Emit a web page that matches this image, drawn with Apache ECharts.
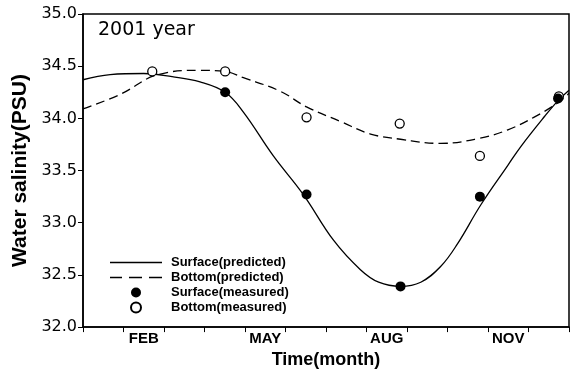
<!DOCTYPE html>
<html><head><meta charset="utf-8">
<script src="https://cdn.jsdelivr.net/npm/echarts@6/dist/echarts.min.js"></script>
<style>html,body{margin:0;padding:0;background:#fff}#c{width:571px;height:374px}</style>
</head><body><div id="c"></div>
<script>
// x in months from start of January (0..12)
const months = ['JAN','FEB','MAR','APR','MAY','JUN','JUL','AUG','SEP','OCT','NOV','DEC'];
const surfacePredicted = [[0,34.37],[0.67,34.42],[1.5,34.43],[2.2,34.40],[2.89,34.35],[3.51,34.25],[3.96,34.06],[4.70,33.64],[5.44,33.27],[6.19,32.83],[6.85,32.55],[7.3,32.43],[7.84,32.39],[8.34,32.43],[8.83,32.58],[9.25,32.80],[9.82,33.17],[10.49,33.55],[10.81,33.73],[11.4,34.02],[11.73,34.17],[12,34.27]];
const bottomPredicted = [[0,34.09],[0.92,34.23],[1.86,34.42],[2.89,34.46],[3.51,34.45],[3.96,34.39],[4.87,34.26],[5.52,34.11],[6.36,33.97],[7.10,33.85],[7.84,33.80],[8.83,33.76],[9.80,33.81],[10.49,33.89],[11.13,34.01],[11.73,34.15],[12,34.24]];
const surfaceMeasured = [[3.51,34.25],[5.52,33.27],[7.84,32.39],[9.80,33.25],[11.73,34.19]];
const bottomMeasured = [[1.71,34.45],[3.51,34.45],[5.52,34.01],[7.82,33.95],[9.80,33.64],[11.75,34.21]];
const seriesNames = ['Surface(predicted)','Bottom(predicted)','Surface(measured)','Bottom(measured)'];
const shownMonths = ['FEB','MAY','AUG','NOV'];

const chart = echarts.init(document.getElementById('c'), null, {renderer:'canvas'});
const boldFont = 'Liberation Sans, Arial, sans-serif';
const solidIcon = 'path://M0,0H52V1.3H0Z';
const dashIcon = 'path://M0,0H12V1.3H0Z M19,0H32V1.3H19Z M39,0H52V1.3H39Z';
chart.setOption({
  animation:false,
  backgroundColor:'#fff',
  title:{text:'2001 year', left:98, top:21, padding:0,
    textStyle:{fontFamily:'DejaVu Sans', fontWeight:'normal', fontSize:19, color:'#000'}},
  grid:{left:83, right:2, top:14, bottom:38, show:true, borderColor:'#000', borderWidth:1.5, backgroundColor:'transparent'},
  legend:{
    orient:'vertical', left:105, top:251, itemWidth:52, itemHeight:10, itemGap:2,
    selectedMode:false,
    data:[
      {name:seriesNames[0], icon:solidIcon, itemStyle:{color:'#000', borderWidth:0}},
      {name:seriesNames[1], icon:dashIcon, itemStyle:{color:'#000', borderWidth:0}},
      {name:seriesNames[2]},
      {name:seriesNames[3]}
    ],
    textStyle:{fontFamily:boldFont, fontWeight:'bold', fontSize:13, color:'#000', padding:[0,0,0,4]}
  },
  xAxis:[
    {type:'value', min:0, max:12, interval:1,
     axisLine:{show:false}, axisTick:{show:false}, axisLabel:{show:false}, splitLine:{show:false}},
    {type:'category', data:months, boundaryGap:true, position:'bottom',
     name:'Time(month)', nameLocation:'middle', nameGap:18,
     nameTextStyle:{fontFamily:boldFont, fontWeight:'bold', fontSize:18, color:'#000'},
     axisLine:{lineStyle:{color:'#000', width:1.5}},
     axisTick:{show:true, length:5, interval:0, lineStyle:{color:'#000', width:1}},
     axisLabel:{interval:0, margin:4, fontFamily:boldFont, fontWeight:'bold', fontSize:15, color:'#000',
       formatter:(v)=> shownMonths.includes(v) ? v : ''},
     splitLine:{show:false}}
  ],
  yAxis:{type:'value', min:32, max:35, interval:0.5,
    name:'Water salinity(PSU)', nameLocation:'middle', nameGap:48, nameRotate:90,
    nameTextStyle:{fontFamily:boldFont, fontWeight:'bold', fontSize:21, color:'#000'},
    axisLine:{show:true, lineStyle:{color:'#000', width:1.5}},
    axisTick:{show:true, length:5, lineStyle:{color:'#000', width:1}},
    axisLabel:{margin:6, fontFamily:'DejaVu Sans', fontSize:16, color:'#000', formatter:(v)=>v.toFixed(1)},
    splitLine:{show:false}},
  series:[
    {name:seriesNames[0], type:'line', xAxisIndex:0, data:surfacePredicted, smooth:0.4, symbol:'none',
     lineStyle:{color:'#000', width:1.3, type:'solid'}, itemStyle:{color:'#000'}, z:2},
    {name:seriesNames[1], type:'line', xAxisIndex:0, data:bottomPredicted, smooth:0.4, symbol:'none',
     lineStyle:{color:'#000', width:1.3, type:[9,5]}, itemStyle:{color:'#000'}, z:2},
    {name:seriesNames[2], type:'scatter', xAxisIndex:0, data:surfaceMeasured, symbol:'circle', symbolSize:10,
     itemStyle:{color:'#000', borderColor:'#000', borderWidth:0, opacity:1}, z:4},
    {name:seriesNames[3], type:'scatter', xAxisIndex:0, data:bottomMeasured, symbol:'circle', symbolSize:9,
     itemStyle:{color:'#fff', borderColor:'#000', borderWidth:1.3, opacity:1}, z:3}
  ]
});
</script></body></html>
